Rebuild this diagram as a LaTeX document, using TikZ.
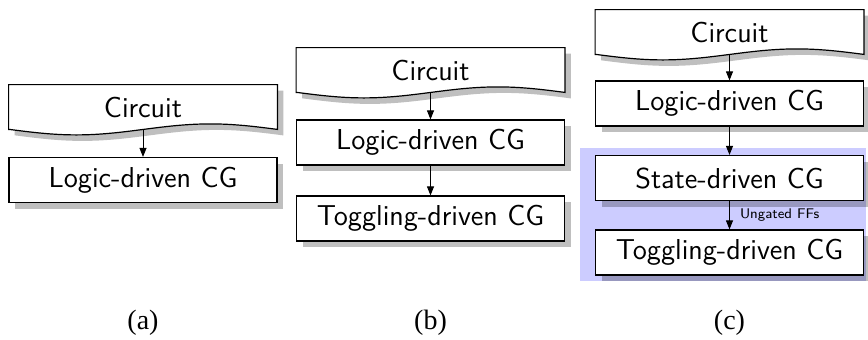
\documentclass[tikz,border=0pt]{standalone}
\usepackage{fontspec}
\newfontfamily\capfont{Liberation Serif}
\usetikzlibrary{arrows.meta,shadows,backgrounds}

\definecolor{stateregion}{RGB}{204,204,255}

\tikzset{
  boxstyle/.style={draw=black, line width=0.6pt, fill=white,
    minimum width=134pt, minimum height=22.5pt, inner sep=0pt,
    font=\sffamily\Large,
    drop shadow={shadow xshift=3pt, shadow yshift=-3pt, fill=black, opacity=0.25}},
  docstyle/.style={minimum width=134pt, minimum height=22pt, inner sep=0pt,
    font=\sffamily\Large},
  flow/.style={line width=0.5pt, -{Triangle[length=4.5pt,width=3.5pt]}},
  caption/.style={font=\capfont\fontsize{14}{16}\selectfont},
  edgelabel/.style={font=\sffamily\scriptsize, inner sep=0pt, right, xshift=5pt},
}

% Document outline (flat top, wavy bottom) around node #1, shifted by #2
\newcommand\docpath[2]{%
  ([shift={#2}]#1.south west) -- ([shift={#2}]#1.north west)
  -- ([shift={#2}]#1.north east) -- ([shift={#2}]#1.south east)
  sin ++(-67,-5.5) cos ++(-67,5.5) sin ++(-67,5.5) cos ++(-67,-5.5) -- cycle}

\newcommand\drawdoc[1]{%
  \begin{scope}[on background layer]
    \fill[black, opacity=0.25] \docpath{#1}{(3pt,-3pt)};
    \filldraw[fill=white, draw=black, line width=0.6pt] \docpath{#1}{(0pt,0pt)};
  \end{scope}}

\begin{document}
\begin{tikzpicture}[x=0.5pt, y=-0.5pt]
  \useasboundingbox (0,0) rectangle (868,339);

  % highlighted region behind the state-driven stage
  \begin{scope}[on background layer]
    \fill[stateregion] (580,148) rectangle (866,281);
  \end{scope}

  % (a)
  \node[docstyle] (ca) at (143,107) {Circuit};
  \drawdoc{ca}
  \node[boxstyle] (la) at (143,180) {Logic-driven CG};
  \draw[flow] (ca.south) -- (la.north);
  \node[caption] (capa) at (143,323) {(a)};

  % (b)
  \node[docstyle] (cb) at (430.5,70) {Circuit};
  \drawdoc{cb}
  \node[boxstyle] (lb) at (430.5,142.5) {Logic-driven CG};
  \node[boxstyle] (tb) at (430.5,218.5) {Toggling-driven CG};
  \draw[flow] (cb.south) -- (lb.north);
  \draw[flow] (lb.south) -- (tb.north);
  \node[caption] (capb) at (430.5,323) {(b)};

  % (c)
  \node[docstyle] (cc) at (729.5,32) {Circuit};
  \drawdoc{cc}
  \node[boxstyle] (lc) at (729.5,103.5) {Logic-driven CG};
  \node[boxstyle] (sc) at (729.5,178) {State-driven CG};
  \node[boxstyle] (tc) at (729.5,252.5) {Toggling-driven CG};
  \draw[flow] (cc.south) -- (lc.north);
  \draw[flow] (lc.south) -- (sc.north);
  \draw[flow] (sc.south) -- node[edgelabel] {Ungated FFs} (tc.north);
  \node[caption] (capc) at (729.5,323) {(c)};
\end{tikzpicture}
\end{document}
